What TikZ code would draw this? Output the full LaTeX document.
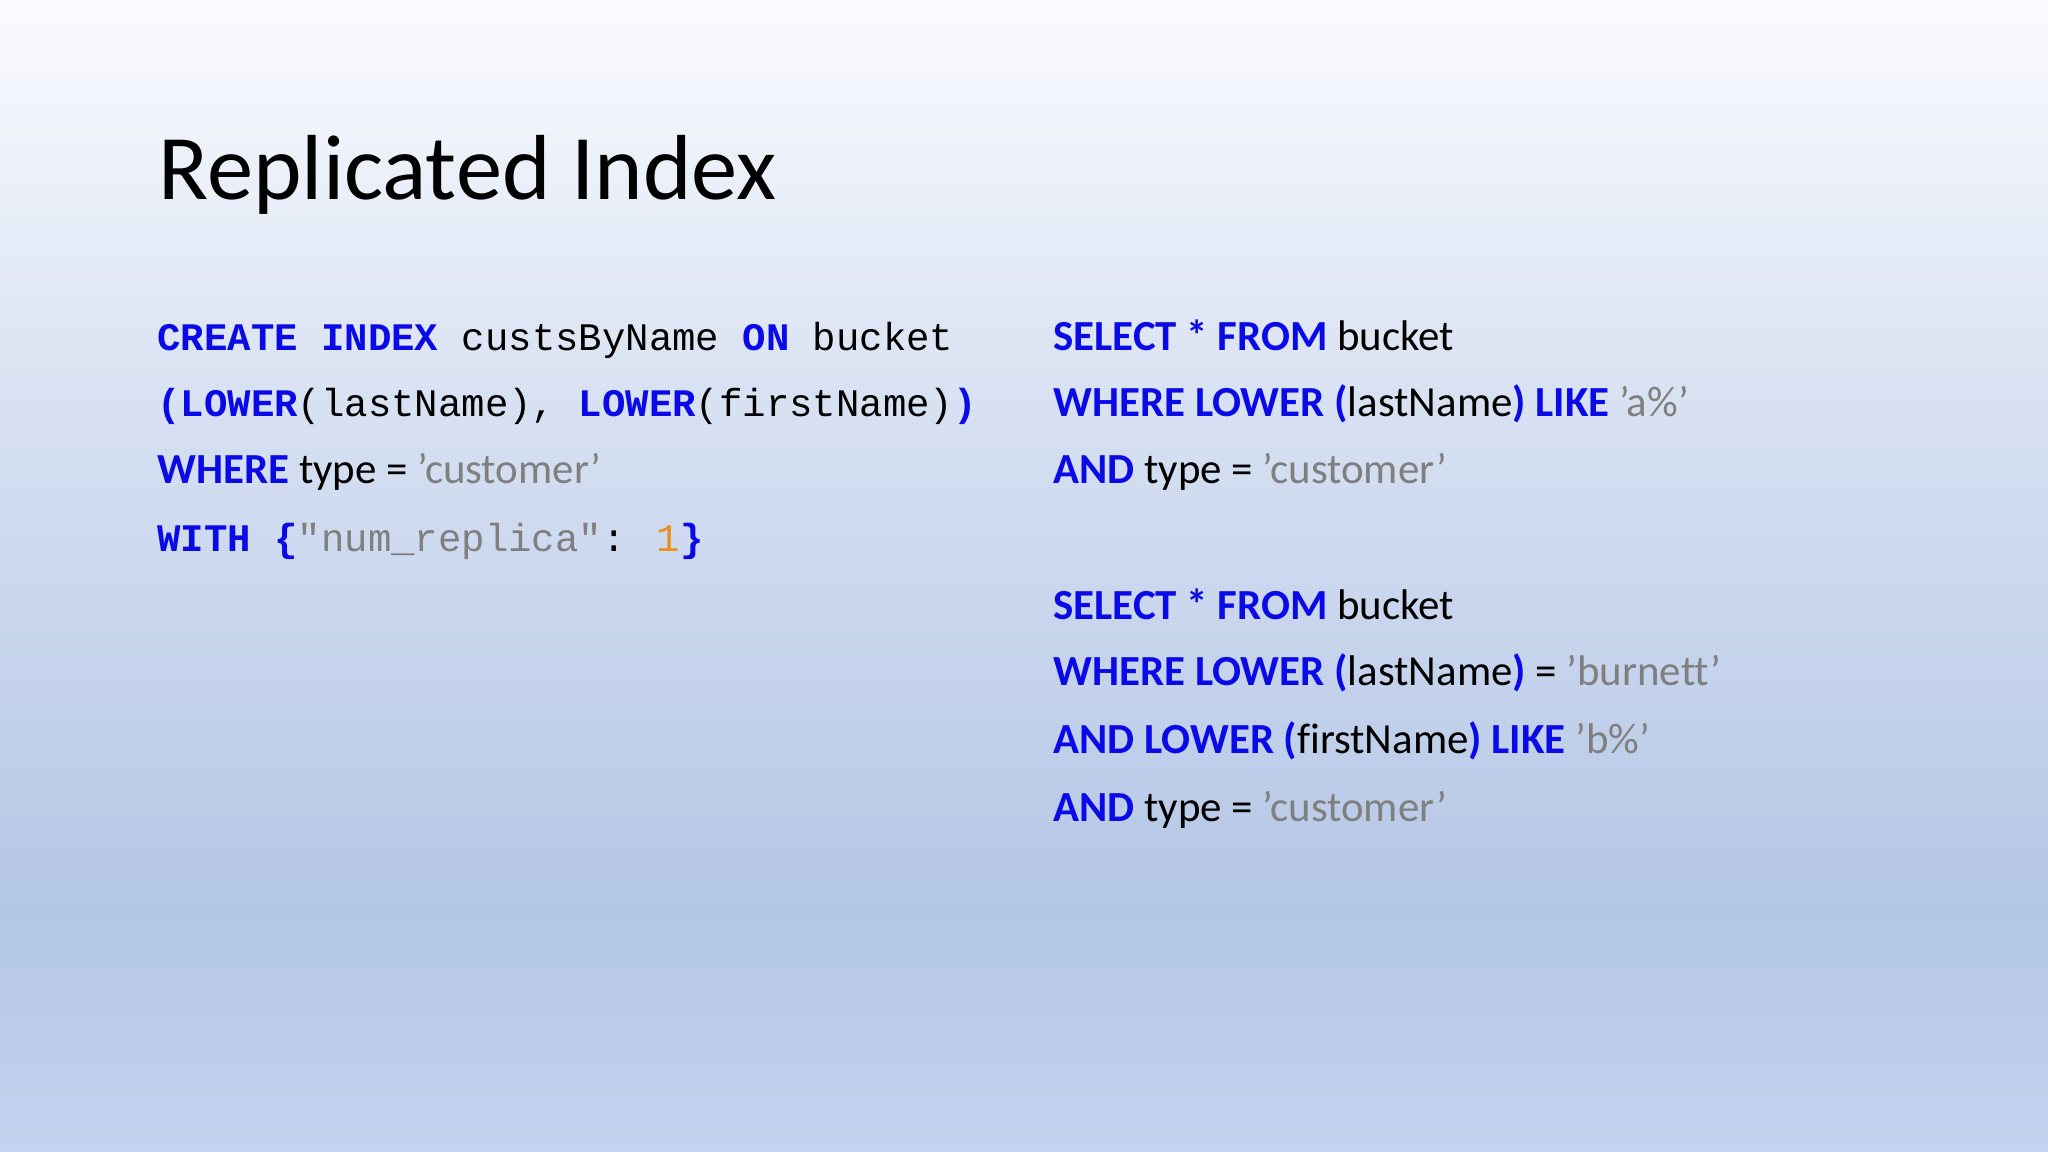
\documentclass[tikz,border=0pt]{standalone}
\usepackage{fontspec}
\setmainfont{Carlito}[Ligatures=NoCommon]
\newfontfamily\codefont{Liberation Mono}
\definecolor{kw}{HTML}{0A0AE6}
\definecolor{str}{HTML}{7F7F7F}
\definecolor{num}{HTML}{F08C1E}
\definecolor{bgtop}{HTML}{FAFBFE}
\definecolor{bgmid}{HTML}{B4C6E6}
\definecolor{bgbot}{HTML}{C3D3F0}
\newcommand{\K}[1]{{\bfseries\color{kw}#1}}
\newcommand{\St}[1]{{\color{str}#1}}
\newcommand{\q}{\char"0027\relax}
\begin{document}
\begin{tikzpicture}[x=0.013061cm,y=-0.013061cm,
  line/.style={anchor=base west,inner sep=0pt,font=\fontsize{12.2}{14}\selectfont},
  cline/.style={anchor=base west,inner sep=0pt,font=\codefont\fontsize{11.1}{13}\selectfont}]
\shade[top color=bgtop,bottom color=bgmid,middle color=bgmid!55!bgtop] (0,0) rectangle (1568,700);
\shade[top color=bgmid,bottom color=bgbot] (0,699) rectangle (1568,882);
\useasboundingbox (0,0) rectangle (1568,882);
\node[anchor=base west,inner sep=0pt,font=\fontsize{26.3}{30}\selectfont] (title) at (121,153) {Replicated Index};
\node[cline] (l1) at (120,268) {\K{CREATE} \K{INDEX} custsByName \K{ON} bucket};
\node[cline] (l2) at (120,319) {\K{(LOWER}(lastName), \K{LOWER}(firstName)\K{)}};
\node[line] (l3) at (120,370) {\K{WHERE} type = \St{\q customer\q}};
\node[cline] (l4) at (120,422) {\K{WITH} \K{\{}\St{"num\_replica"}: {\color{num}1}\K{\}}};
\node[line] (r1) at (806,268) {\K{SELECT * FROM} bucket};
\node[line] (r2) at (806,319) {\K{WHERE LOWER (}lastName\K{)} \K{LIKE} \St{\q a\%’}};
\node[line] (r3) at (806,370) {\K{AND} type = \St{\q customer\q}};
\node[line] (r4) at (806,474) {\K{SELECT * FROM} bucket};
\node[line] (r5) at (806,525) {\K{WHERE LOWER (}lastName\K{)} = \St{\q burnett\q}};
\node[line] (r6) at (806,577) {\K{AND LOWER (}firstName\K{)} \K{LIKE} \St{\q b\%’}};
\node[line] (r7) at (806,629) {\K{AND} type = \St{\q customer\q}};
\end{tikzpicture}
\end{document}
